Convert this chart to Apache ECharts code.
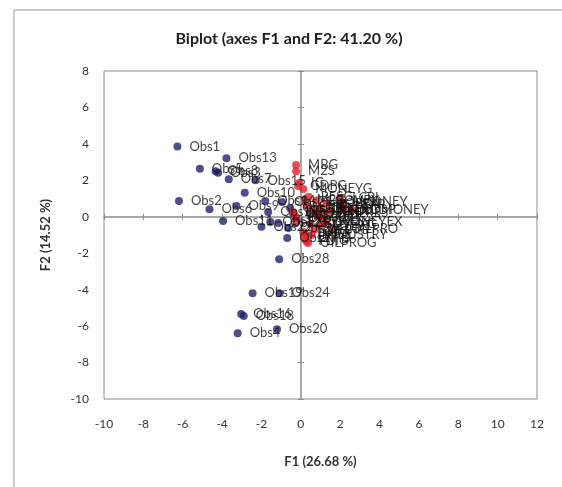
<!DOCTYPE html>
<html>
<head>
<meta charset="utf-8">
<script src="https://cdn.jsdelivr.net/npm/echarts@6/dist/echarts.min.js"></script>
<style>
  html, body { margin: 0; padding: 0; background: #fff; }
  #chart { width: 562px; height: 487px; }
</style>
</head>
<body>
<div id="chart"></div>
<script>
// 观测点 (F1, F2)
const obsNames = ['Obs1', 'Obs13', 'Obs5', 'Obs8', 'Obs3', 'Obs7', 'Obs15', 'Obs10', 'Obs2', 'Obs6',
    'Obs9', 'Obs11', 'Obs14', 'Obs17', 'Obs21', 'Obs23', 'Obs25', 'Obs26', 'Obs27', 'Obs12',
    'Obs29', 'Obs30', 'Obs22', 'Obs28', 'Obs19', 'Obs24', 'Obs16', 'Obs18', 'Obs4', 'Obs20'];
const obsF1 = [-6.27, -3.78, -5.13, -4.33, -4.2, -3.66, -2.3, -2.85, -6.19, -4.64,
    -3.27, -3.95, -1.81, -1.66, -0.95, -0.54, -1.15, -0.64, -0.69, -1.55,
    -0.39, -0.24, -2.0, -1.10, -2.45, -1.08, -3.03, -2.90, -3.21, -1.21];
const obsF2 = [3.85, 3.21, 2.64, 2.50, 2.42, 2.06, 2.0, 1.32, 0.87, 0.41,
    0.59, -0.23, 0.87, 0.26, 0.81, 0.48, -0.34, -0.61, -1.16, -0.29,
    0.15, -0.07, -0.55, -2.33, -4.20, -4.20, -5.33, -5.45, -6.39, -6.17];

// 变量 (F1, F2)
const varNames = ['MBG', 'M2S', 'IG', 'MONEYG', 'GDPG', 'LMONEY', 'LRGDP', 'LQMONEY', 'MONEYEX', 'LOILPRO',
    'OILPROG', 'INDUSTRY', 'LCPI', 'LEXR', 'LRES', 'INF', 'INT', 'EXRG', 'TOTG', 'IMPG',
    'EXPG', 'FDIG', 'LEXP', 'LIMP', 'LGOVEX', 'OPEN', 'LFDI', 'GOVEXG', 'CPIG', 'LDEBT',
    'RESG', 'LTOT', 'DEBTG', 'LOPEN', 'M2G', 'LM2', 'LINT', 'CREDIT'];
const varF1 = [-0.24, -0.24, -0.09, 0.12, -0.14, 2.04, 2.09, 2.6, 1.3, 1.63,
    0.37, 0.55, 2.0, 2.14, 2.34, -0.39, -0.29, -0.24, 0.12, 0.27,
    0.22, 0.27, 1.0, 1.2, 0.8, 0.6, 1.5, 0.5, 0.3, 1.0,
    0.4, 0.9, 0.7, 1.3, 0.2, 1.1, 0.6, 0.9];
const varF2 = [2.84, 2.50, 1.86, 1.53, 1.69, 0.81, 0.37, 0.37, -0.25, -0.67,
    -1.44, -1.0, 1.03, 0.65, 0.21, 0.26, 0.04, -0.29, -0.83, -1.0,
    -1.16, -1.33, 0.5, 0.2, 0.9, 0.2, 0.3, -0.4, 0.6, -0.5,
    1.1, 0.0, -0.7, 0.7, 0.95, -0.2, 0.45, 0.3];

// 坐标轴范围
const xRange = [-10, 12];
const yRange = [-10, 8];
const tickStep = 2;

const font = 'Lato, "Liberation Sans", sans-serif';
const gray = '#8c8c8c';

function toPoints(names, xs, ys) {
    return names.map((n, i) => ({ name: n, value: [xs[i], ys[i]] }));
}

// 刻度轴：0 处穿过的轴线和上下两侧的短刻度
function zeroAxis(position, showLine) {
    return {
        type: 'value', position: position,
        axisLine: { show: showLine, onZero: true, lineStyle: { color: gray, width: 1.5 } },
        axisTick: { show: true, length: 3, lineStyle: { color: gray } },
        axisLabel: { show: false },
        splitLine: { show: false }
    };
}

const chart = echarts.init(document.getElementById('chart'));

const xBase = { min: xRange[0], max: xRange[1], interval: tickStep };
const yBase = { min: yRange[0], max: yRange[1], interval: tickStep };

const option = {
    backgroundColor: '#fff',
    animation: false,
    title: {
        text: 'Biplot (axes F1 and F2: 41.20 %)',
        left: 284, top: 26, textAlign: 'center',
        textStyle: { fontFamily: font, fontSize: 16, fontWeight: 'bold', color: '#222' }
    },
    grid: {
        left: 104, top: 71, right: 25, bottom: 88,
        show: true, borderColor: gray, borderWidth: 1
    },
    xAxis: [
        Object.assign({
            type: 'value', position: 'bottom',
            name: 'F1 (26.68 %)', nameLocation: 'middle', nameGap: 56,
            nameTextStyle: { fontFamily: font, fontSize: 13, fontWeight: 'bold', color: '#333' },
            axisLine: { show: false, onZero: false },
            axisTick: { show: false },
            axisLabel: { margin: 19, fontFamily: font, fontSize: 12, color: '#333' },
            splitLine: { show: false }
        }, xBase),
        Object.assign(zeroAxis('bottom', true), xBase),
        Object.assign(zeroAxis('top', false), xBase)
    ],
    yAxis: [
        Object.assign({
            type: 'value', position: 'left',
            name: 'F2 (14.52 %)', nameLocation: 'middle', nameGap: 52,
            nameTextStyle: { fontFamily: font, fontSize: 13, fontWeight: 'bold', color: '#333' },
            axisLine: { show: false, onZero: false },
            axisTick: { show: false },
            axisLabel: { margin: 15, fontFamily: font, fontSize: 12, color: '#333' },
            splitLine: { show: false }
        }, yBase),
        Object.assign(zeroAxis('left', true), yBase),
        Object.assign(zeroAxis('right', false), yBase)
    ],
    graphic: [
        { type: 'line', shape: { x1: 14, y1: 10, x2: 562, y2: 10 }, style: { stroke: '#999', lineWidth: 1 } },
        { type: 'line', shape: { x1: 14, y1: 10, x2: 14, y2: 487 }, style: { stroke: '#999', lineWidth: 1 } }
    ],
    series: [
        {
            type: 'scatter', name: 'Observations',
            data: toPoints(obsNames, obsF1, obsF2),
            symbolSize: 8,
            itemStyle: { color: '#23236e' },
            label: {
                show: true, position: 'right', distance: 8, formatter: '{b}',
                fontFamily: font, fontSize: 13, color: '#111'
            },
            labelLayout: { hideOverlap: false }
        },
        {
            type: 'scatter', name: 'Variables',
            data: toPoints(varNames, varF1, varF2),
            symbolSize: 8,
            itemStyle: { color: '#e4222a' },
            label: {
                show: true, position: 'right', distance: 8, formatter: '{b}',
                fontFamily: font, fontSize: 13, color: '#111'
            },
            labelLayout: { hideOverlap: false }
        }
    ]
};

chart.setOption(option);
</script>
</body>
</html>
